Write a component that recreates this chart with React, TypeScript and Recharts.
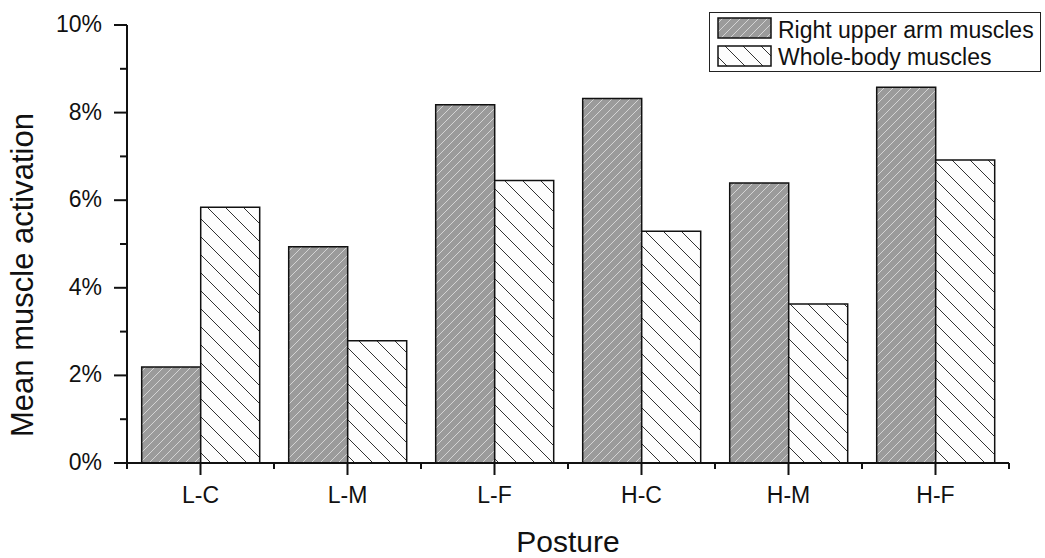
import React from "react";
import { BarChart, Bar, XAxis, YAxis, Label } from "recharts";

const postures = ["L-C", "L-M", "L-F", "H-C", "H-M", "H-F"];
const upperArm = [2.19, 4.94, 8.18, 8.32, 6.39, 8.58];
const wholeBody = [5.84, 2.79, 6.45, 5.29, 3.63, 6.92];
const yTicks = [0, 1, 2, 3, 4, 5, 6, 7, 8, 9, 10];
const xMajorTicks = [1, 2, 3, 4, 5, 6];

const data = postures.map((p, i) => ({ posture: p, pos: i + 1, arm: upperArm[i], body: wholeBody[i] }));

const FONT = "'Liberation Sans', Arial, Helvetica, sans-serif";
const INK = "#111";

const CHART_W = 1045;
const CHART_H = 558;
const MARGIN = { top: 25, right: 36, bottom: 0, left: 0 };
const Y_AXIS_W = 127;
const PLOT_W = CHART_W - MARGIN.left - MARGIN.right - Y_AXIS_W;

function Patterns({ suffix = "" }: { suffix?: string }) {
  return (
    <defs>
      <pattern id={`armPat${suffix}`} patternUnits="userSpaceOnUse" width={9} height={9}>
        <rect width={9} height={9} fill="#9b9b9b" />
        <path d="M0,9 L9,0 M-1,1 L1,-1 M8,10 L10,8" stroke="#d4d4d4" strokeWidth={1} />
      </pattern>
      <pattern id={`bodyPat${suffix}`} patternUnits="userSpaceOnUse" width={18} height={18}>
        <rect width={18} height={18} fill="#fdfdfd" />
        <path d="M0,0 L18,18 M-1,17 L1,19 M17,-1 L19,1" stroke="#333" strokeWidth={1} />
      </pattern>
    </defs>
  );
}

function YTick({ x, y, payload }: any) {
  const major = payload.value % 2 === 0;
  return (
    <g>
      <line x1={x - (major ? 13 : 7)} x2={x} y1={y} y2={y} stroke={INK} strokeWidth={2} />
      {major && (
        <text x={x - 25} y={y + 7} textAnchor="end" fontSize={23} fontFamily={FONT} fill={INK}>
          {payload.value}%
        </text>
      )}
    </g>
  );
}

// major tick + label; minor ticks half a category to each side
function XTick({ x, y, payload }: any) {
  const half = PLOT_W / postures.length / 2;
  const last = payload.value === postures.length;
  return (
    <g>
      <line x1={x - half} x2={x - half} y1={y} y2={y + 6} stroke={INK} strokeWidth={2} />
      {last && <line x1={x + half} x2={x + half} y1={y} y2={y + 6} stroke={INK} strokeWidth={2} />}
      <line x1={x} x2={x} y1={y} y2={y + 12} stroke={INK} strokeWidth={2} />
      <text x={x} y={y + 40} textAnchor="middle" fontSize={23} fontFamily={FONT} fill={INK}>
        {postures[payload.value - 1]}
      </text>
    </g>
  );
}

function LegendBox() {
  const items = [
    { label: "Right upper arm muscles", fill: "url(#armPatL)" },
    { label: "Whole-body muscles", fill: "url(#bodyPatL)" },
  ];
  return (
    <div
      style={{
        position: "absolute",
        left: 709,
        top: 12,
        width: 332,
        height: 60,
        border: "1px solid #222",
        background: "#fff",
        boxSizing: "border-box",
      }}
    >
      <svg width={332} height={60} style={{ position: "absolute", left: 0, top: 0 }}>
        <Patterns suffix="L" />
        {items.map((it, i) => (
          <g key={it.label}>
            <rect x={8} y={5 + i * 28} width={53} height={20} fill={it.fill} stroke={INK} strokeWidth={1.5} />
            <text x={68} y={25 + i * 27} fontSize={23} fontFamily={FONT} fill={INK}>
              {it.label}
            </text>
          </g>
        ))}
      </svg>
    </div>
  );
}

export default function App() {
  return (
    <div style={{ position: "absolute", left: 0, top: 0, width: CHART_W, height: CHART_H, background: "#fff" }}>
      <BarChart
        width={CHART_W}
        height={CHART_H}
        data={data}
        margin={MARGIN}
        barCategoryGap="10%"
        barGap={0}
      >
        <Patterns />
        <XAxis
          type="number"
          dataKey="pos"
          domain={[0.5, 6.5]}
          ticks={xMajorTicks}
          interval={0}
          allowDataOverflow
          height={95}
          axisLine={{ stroke: INK, strokeWidth: 2 }}
          tickLine={false}
          tickSize={0}
          tickMargin={0}
          tick={<XTick />}
        >
          <Label
            content={({ viewBox }: any) => (
              <text
                x={viewBox.x + viewBox.width / 2}
                y={viewBox.y + 89}
                textAnchor="middle"
                fontSize={30}
                fontFamily={FONT}
                fill={INK}
              >
                Posture
              </text>
            )}
          />
        </XAxis>
        <YAxis
          width={Y_AXIS_W}
          domain={[0, 10]}
          ticks={yTicks}
          interval={0}
          allowDataOverflow
          axisLine={{ stroke: INK, strokeWidth: 2 }}
          tickLine={false}
          tickSize={0}
          tickMargin={0}
          tick={<YTick />}
        >
          <Label
            content={({ viewBox }: any) => {
              const cx = viewBox.x + 33;
              const cy = viewBox.y + viewBox.height / 2 + 31;
              return (
                <text
                  x={cx}
                  y={cy}
                  transform={`rotate(-90 ${cx} ${cy})`}
                  textAnchor="middle"
                  fontSize={31}
                  fontFamily={FONT}
                  fill={INK}
                >
                  Mean muscle activation
                </text>
              );
            }}
          />
        </YAxis>
        <Bar
          dataKey="arm"
          name="Right upper arm muscles"
          fill="url(#armPat)"
          stroke={INK}
          strokeWidth={1.5}
          isAnimationActive={false}
        />
        <Bar
          dataKey="body"
          name="Whole-body muscles"
          fill="url(#bodyPat)"
          stroke={INK}
          strokeWidth={1.5}
          isAnimationActive={false}
        />
      </BarChart>
      <LegendBox />
    </div>
  );
}
